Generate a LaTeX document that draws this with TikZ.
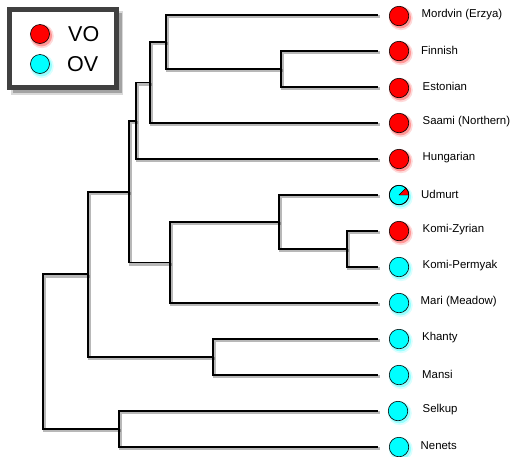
\documentclass[tikz,border=0pt]{standalone}
\usepackage{fontspec}
\setmainfont{Liberation Sans}
\definecolor{ovc}{RGB}{0,255,255}
\definecolor{voc}{RGB}{255,0,0}
\begin{document}
\newcommand\leafdot[4]{%
  \fill[#3, opacity=.15] (#2+1.8,#4+2.2) circle (12);
  \fill[#3, opacity=.3] (#2+1.5,#4+1.8) circle (10.6);
}
\newcommand\treepaths{%
  \draw[branch] (fe) |- (l2);  \draw[branch] (fe) |- (l3);
  \draw[branch] (mfe) |- (l1); \draw[branch] (mfe) |- (fe);
  \draw[branch] (s) |- (mfe);  \draw[branch] (s) |- (l4);
  \draw[branch] (h) |- (s);    \draw[branch] (h) |- (l5);
  \draw[branch] (kk) |- (l7);  \draw[branch] (kk) |- (l8);
  \draw[branch] (ukk) |- (l6); \draw[branch] (ukk) |- (kk);
  \draw[branch] (m) |- (ukk);  \draw[branch] (m) |- (l9);
  \draw[branch] (a) |- (h);    \draw[branch] (a) |- (m);
  \draw[branch] (km) |- (l10); \draw[branch] (km) |- (l11);
  \draw[branch] (fu) |- (a);   \draw[branch] (fu) |- (km);
  \draw[branch] (sn) |- (l12); \draw[branch] (sn) |- (l13);
  \draw[branch] (root) |- (fu); \draw[branch] (root) |- (sn);
}
\begin{tikzpicture}[x=1pt,y=-1pt,
  branch/.style={line width=1.8pt, black},
  dotc/.style={circle, draw=black, line width=0.6pt, minimum size=19.5pt, inner sep=0pt},
  lab/.style={anchor=west, inner sep=0pt, font=\fontsize{11.4}{13}\selectfont},
  leg/.style={anchor=west, inner sep=0pt, font=\fontsize{21.5}{24}\selectfont}]
\useasboundingbox (0,0) rectangle (510,456);
\clip (0,0) rectangle (510,456);
% leaf ends
\coordinate (l1) at (378,15);
\coordinate (l2) at (378,51);
\coordinate (l3) at (378,87);
\coordinate (l4) at (378,123);
\coordinate (l5) at (378,159);
\coordinate (l6) at (378,195);
\coordinate (l7) at (378,231);
\coordinate (l8) at (378,267);
\coordinate (l9) at (378,303);
\coordinate (l10) at (378,339);
\coordinate (l11) at (378,375);
\coordinate (l12) at (378,411);
\coordinate (l13) at (378,447);
% internal nodes
\coordinate (fe) at (281,69);
\coordinate (mfe) at (166,42);
\coordinate (s) at (150,82.5);
\coordinate (h) at (136,120.75);
\coordinate (kk) at (347,249);
\coordinate (ukk) at (279,222);
\coordinate (m) at (170,262.5);
\coordinate (a) at (129,191.6);
\coordinate (km) at (213,357);
\coordinate (fu) at (88,274.3);
\coordinate (sn) at (119,429);
\coordinate (root) at (43,351.7);
% shadows of branches
\begin{scope}[transform canvas={shift={(1.6pt,-1.8pt)}}, branch/.style={line width=2.8pt, black, opacity=.28}]
  \treepaths
\end{scope}
\treepaths
% leaf dots
\leafdot{c1}{399}{voc}{16}
\leafdot{c2}{399}{voc}{51}
\leafdot{c3}{399}{voc}{88}
\leafdot{c4}{399}{voc}{123}
\leafdot{c5}{399}{voc}{159}
\leafdot{c6}{399}{ovc}{195}
\leafdot{c7}{399}{voc}{231}
\leafdot{c8}{399}{ovc}{267}
\leafdot{c9}{399}{ovc}{303}
\leafdot{c10}{399}{ovc}{339}
\leafdot{c11}{399}{ovc}{375}
\leafdot{c12}{398}{ovc}{411}
\leafdot{c13}{399}{ovc}{447}
\node[dotc, fill=voc] (c1) at (399,16) {};
\node[dotc, fill=voc] (c2) at (399,51) {};
\node[dotc, fill=voc] (c3) at (399,88) {};
\node[dotc, fill=voc] (c4) at (399,123) {};
\node[dotc, fill=voc] (c5) at (399,159) {};
\node[dotc, fill=ovc] (c6) at (399,195) {};
\fill[voc, draw=black, line width=0.4pt] (c6.center) -- ++(0:9.75) arc[start angle=0, end angle=-45, radius=9.75] -- cycle;
\draw[line width=0.6pt] (c6) circle (9.75);
\node[dotc, fill=voc] (c7) at (399,231) {};
\node[dotc, fill=ovc] (c8) at (399,267) {};
\node[dotc, fill=ovc] (c9) at (399,303) {};
\node[dotc, fill=ovc] (c10) at (399,339) {};
\node[dotc, fill=ovc] (c11) at (399,375) {};
\node[dotc, fill=ovc] (c12) at (398,411) {};
\node[dotc, fill=ovc] (c13) at (399,447) {};
% labels
\node[lab] (t1) at (421.5,14.5) {Mordvin (Erzya)};
\node[lab] (t2) at (421,50) {Finnish};
\node[lab] (t3) at (422.5,86) {Estonian};
\node[lab] (t4) at (422.5,122) {Saami (Northern)};
\node[lab] (t5) at (422.5,158) {Hungarian};
\node[lab] (t6) at (421,194) {Udmurt};
\node[lab] (t7) at (422.5,230) {Komi-Zyrian};
\node[lab] (t8) at (422.5,266) {Komi-Permyak};
\node[lab] (t9) at (420.5,302) {Mari (Meadow)};
\node[lab] (t10) at (422,338) {Khanty};
\node[lab] (t11) at (422,374) {Mansi};
\node[lab] (t12) at (422.5,410) {Selkup};
\node[lab] (t13) at (420.5,446) {Nenets};
% legend
\fill[black, opacity=.25] (12.5,12.5) rectangle (121.5,93);
\fill[black, opacity=.15] (11,11) rectangle (123,95);
\node[draw=black!75, line width=4.5pt, fill=white, minimum width=107pt, minimum height=78pt, inner sep=0pt] (legend) at (63,48.5) {};
\leafdot{lvo}{40}{voc}{34}
\leafdot{lov}{40}{ovc}{64}
\node[dotc, fill=voc, minimum size=19pt] (lvo) at (40,34) {};
\node[dotc, fill=ovc, minimum size=19pt] (lov) at (40,64) {};
\node[leg] (tvo) at (68,34) {VO};
\node[leg] (tov) at (67,64) {OV};
\end{tikzpicture}
\end{document}
